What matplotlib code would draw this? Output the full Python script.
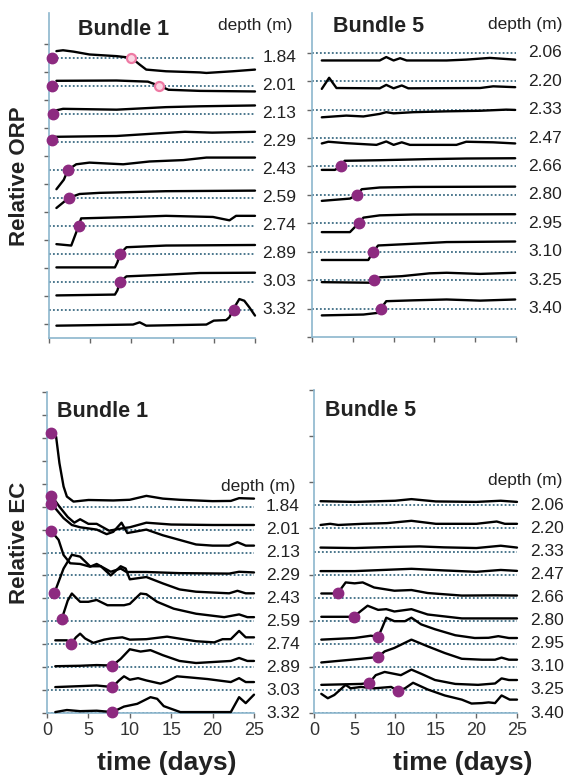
import matplotlib
matplotlib.use("Agg")
import matplotlib.pyplot as plt

plt.rcParams['font.family'] = ['Liberation Sans', 'DejaVu Sans']

# ---- data: traces are (day, offset above the depth's dotted baseline) ----
# Bundle 1, relative ORP
orp1_depths = ["1.84", "2.01", "2.13", "2.29", "2.43", "2.59", "2.74", "2.89", "3.03", "3.32"]
orp1_t = [
    [0.9, 1.7, 3, 4.9, 8.2, 10, 11, 11.8, 14.2, 18.3, 19.1, 22.3, 25],
    [0.9, 8.2, 12, 13.4, 14.5, 18.3, 25],
    [0.5, 1.7, 8.2, 14.2, 18.3, 25],
    [0.5, 8.2, 13, 16.5, 19.8, 25],
    [0.9, 1.8, 2.3, 3.3, 4.9, 9, 12.2, 16.3, 19.1, 25],
    [0.9, 2.4, 3.7, 6.1, 14.2, 25],
    [0.9, 2.7, 3.6, 3.9, 10.2, 14.2, 19.9, 21.9, 22.7, 25],
    [0.9, 8, 8.3, 8.6, 9.4, 14.2, 25],
    [0.9, 8, 8.3, 8.6, 9.4, 14.2, 18.3, 25],
    [0.9, 10.2, 11, 11.8, 19.1, 20, 21.5, 21.9, 22.3, 23.1, 23.7, 24.3, 25],
]
orp1_v = [
    [0.24, 0.27, 0.22, 0.12, 0.06, 0.0, -0.24, -0.42, -0.48, -0.52, -0.54, -0.48, -0.42],
    [0.18, 0.19, 0.15, 0.0, -0.14, -0.18, -0.2],
    [0.1, 0.18, 0.15, 0.24, 0.27, 0.3],
    [0.18, 0.21, 0.3, 0.36, 0.33, 0.36],
    [-0.69, -0.35, 0.0, 0.2, 0.26, 0.2, 0.3, 0.35, 0.44, 0.44],
    [-0.36, 0.0, 0.14, 0.18, 0.24, 0.26],
    [-0.65, -0.7, 0.0, 0.27, 0.32, 0.36, 0.32, 0.2, 0.36, 0.36],
    [-0.48, -0.48, -0.3, 0.0, 0.24, 0.3, 0.32],
    [-0.48, -0.45, -0.3, 0.0, 0.2, 0.26, 0.32, 0.33],
    [-0.56, -0.52, -0.44, -0.56, -0.52, -0.38, -0.36, -0.26, 0.0, 0.39, 0.33, 0.1, -0.2],
]
orp1_mark_t = [0.4, 0.4, 0.5, 0.4, 2.3, 2.4, 3.6, 8.6, 8.6, 22.4]
orp1_mark_v = [0, 0, 0, 0.05, 0, 0, 0, 0, 0, 0]
orp1_pink_row = [0, 1]
orp1_pink_t = [10.0, 13.4]

# Bundle 5, relative ORP
orp5_depths = ["2.06", "2.20", "2.33", "2.47", "2.66", "2.80", "2.95", "3.10", "3.25", "3.40"]
orp5_t = [
    [1.2, 8.3, 9.1, 10, 10.8, 11.6, 16.5, 18.9, 21.8, 24.9],
    [1.2, 2.1, 3.0, 8.3, 9.1, 10, 11, 11.8, 20.6, 22.2, 24.9],
    [1.2, 4.2, 6.3, 8.3, 9.1, 10, 12.4, 16.5, 20.6, 23.8, 24.9],
    [1.2, 2.0, 4.2, 7.9, 9.1, 10, 11, 12, 17.7, 18.9, 22.2, 24.9],
    [1.2, 2.8, 3.55, 4.0, 8.3, 14.4, 18.9, 24.9],
    [1.2, 4.65, 5.5, 6.1, 8.3, 12.4, 24.9],
    [1.2, 4.65, 5.7, 6.3, 8.3, 12.4, 24.9],
    [1.2, 6.9, 7.5, 8.1, 12.4, 16.5, 24.9],
    [1.2, 7.1, 7.6, 8.3, 11, 14.4, 16.5, 20.6, 24.9],
    [1.2, 6.3, 8.1, 8.45, 9.1, 12.4, 16.5, 20.6, 24.9],
]
orp5_v = [
    [-0.27, -0.27, -0.15, -0.27, -0.19, -0.27, -0.27, -0.24, -0.18, -0.24],
    [-0.27, 0.12, -0.24, -0.25, -0.13, -0.25, -0.15, -0.25, -0.24, -0.18, -0.21],
    [-0.27, -0.21, -0.24, -0.15, -0.09, -0.13, -0.09, -0.06, -0.04, 0.0, -0.01],
    [-0.19, -0.13, -0.18, -0.24, -0.12, -0.24, -0.15, -0.24, -0.24, -0.13, -0.15, -0.19],
    [-0.12, -0.12, 0.0, 0.2, 0.22, 0.26, 0.28, 0.29],
    [-0.21, -0.13, 0.0, 0.2, 0.26, 0.28, 0.29],
    [-0.31, -0.31, 0.0, 0.2, 0.28, 0.31, 0.32],
    [-0.29, -0.29, 0.0, 0.22, 0.28, 0.34, 0.36],
    [-0.07, -0.09, 0.0, 0.1, 0.14, 0.24, 0.26, 0.22, 0.26],
    [-0.24, -0.21, -0.15, 0.0, 0.26, 0.29, 0.32, 0.28, 0.32],
]
orp5_mark_t = [None, None, None, None, 3.55, 5.5, 5.7, 7.5, 7.6, 8.45]
orp5_mark_v = [0, 0, 0, 0, 0, 0, 0, 0, 0, 0]

# Bundle 1, relative EC
ec1_depths = orp1_depths
ec1_t = [
    [0.6, 1.1, 1.5, 2, 2.4, 3.2, 5, 8, 10, 12, 14, 16, 20, 22.2, 23.2, 25],
    [0.6, 1.5, 2.5, 3.3, 4, 5, 6, 7.5, 9, 10, 12, 15, 20, 25],
    [0.6, 2, 3, 4, 5, 6, 7.2, 8, 9, 9.7, 10.5, 12, 14, 16, 18, 20, 22, 23, 24, 25],
    [0.5, 1.4, 2, 2.8, 4, 5.2, 6, 7.7, 8.9, 9.6, 12, 16, 22, 23.2, 25],
    [0.9, 2, 3, 4, 5.2, 6.5, 7.7, 8.9, 9.5, 10, 12, 14, 16, 18, 22, 23, 24, 25],
    [1.8, 2.5, 3, 4, 5, 6, 7.3, 9.3, 10, 11.3, 12, 13.3, 15.3, 18, 21.4, 23.2, 24.2, 25],
    [1, 2.4, 2.9, 3.5, 4, 4.6, 5.6, 6.9, 7.7, 9.1, 10, 12, 14.5, 18, 20.2, 21.2, 22.2, 23.2, 24, 25],
    [1, 4, 6, 7.9, 8.9, 10, 11.3, 12.5, 14, 16, 18, 22.2, 23.2, 24.2, 25],
    [1, 6, 7.9, 8.7, 9.3, 10, 11, 12, 13.7, 14.5, 15.7, 17.3, 19.4, 22.2, 23.2, 24, 25],
    [1, 2.4, 4, 6, 7.9, 9.3, 10.9, 12.5, 13.3, 14.1, 16.1, 22.2, 23.2, 24, 25],
]
ec1_v = [
    [3.2, 3.05, 1.9, 0.88, 0.44, 0.22, 0.29, 0.27, 0.3, 0.47, 0.35, 0.3, 0.24, 0.25, 0.37, 0.35],
    [1.45, 1.0, 0.55, 0.3, 0.45, 0.25, 0.25, -0.05, 0.05, 0.1, 0.3, 0.22, 0.2, 0.2],
    [2.1, 1.5, 1.2, 1.1, 1.05, 1.0, 0.8, 0.9, 1.3, 0.85, 0.9, 1.0, 0.75, 0.55, 0.35, 0.3, 0.3, 0.45, 0.3, 0.3],
    [1.94, 1.55, 0.89, 0.53, 0.5, 0.38, 0.5, 0.16, 0.3, 0.15, 0.15, 0.1, 0.08, 0.16, 0.13],
    [0.24, 1.3, 1.9, 1.82, 1.4, 1.4, 1.0, 1.4, 1.3, 0.83, 0.93, 0.65, 0.39, 0.29, 0.22, 0.33, 0.22, 0.22],
    [0.12, 0.9, 1.21, 0.85, 0.85, 0.93, 0.7, 0.7, 0.76, 1.21, 1.18, 0.85, 0.55, 0.33, 0.18, 0.3, 0.18, 0.18],
    [0.17, 0.17, 0.02, 0.3, 0.46, 0.25, 0.06, 0.2, 0.25, 0.3, 0.2, 0.22, 0.33, 0.13, 0.08, 0.22, 0.22, 0.58, 0.3, 0.3],
    [0.04, 0.06, 0.09, 0.07, 0.36, 0.78, 0.68, 0.74, 0.52, 0.27, 0.18, 0.27, 0.4, 0.27, 0.27],
    [0.13, 0.2, 0.13, 0.42, 0.6, 0.45, 0.52, 0.42, 0.28, 0.38, 0.6, 0.55, 0.48, 0.35, 0.52, 0.35, 0.35],
    [0.04, 0.13, 0.08, 0.1, 0.04, 0.28, 0.4, 0.69, 0.62, 0.3, 0.04, 0.04, 0.69, 0.43, 0.8],
]
ec1_mark_t = [0.5, 0.5, 0.5, 0.5, 0.9, 1.8, 2.9, 7.9, 7.9, 7.9]
ec1_mark_v = [3.21, 1.45, 2.1, 1.94, 0.24, 0.12, 0.02, 0.07, 0.13, 0.04]

# Bundle 5, relative EC
ec5_depths = orp5_depths
ec5_t = [
    [0.8, 5, 10, 12, 15, 20, 23, 25],
    [0.8, 2, 3, 6, 9, 12, 15, 20, 22.5, 23.5, 25],
    [0.8, 5, 10, 13, 16, 20, 23, 25],
    [0.8, 5, 12, 16, 20, 23, 25],
    [0.9, 2.9, 3.9, 5, 6, 7.4, 9.9, 12, 14, 18.2, 22.3, 25],
    [0.9, 4.1, 4.9, 5.8, 6.6, 7.9, 8.9, 9.9, 12, 14, 18.2, 25],
    [0.9, 5, 7, 7.9, 8.4, 8.9, 9.9, 11.2, 12, 13.2, 14.9, 17.4, 19.8, 21.5, 22.7, 24, 25],
    [0.9, 5.8, 7.9, 8.7, 9.9, 12, 14, 16.1, 18.2, 20.7, 22.3, 23.1, 24, 25],
    [0.9, 5.8, 6.8, 7.6, 8.7, 10.7, 12, 13.2, 14.9, 17.4, 20.2, 22.3, 23.1, 24, 25],
    [0.9, 1.7, 2.5, 3.9, 4.5, 5.8, 7.4, 9.5, 10.3, 11.2, 12.2, 14, 16.1, 18.2, 19.4, 20.7, 21.5, 22.3, 23.1, 24.1, 25],
]
ec5_v = [
    [0.18, 0.15, 0.2, 0.27, 0.17, 0.15, 0.2, 0.15],
    [0.15, 0.2, 0.15, 0.2, 0.23, 0.33, 0.2, 0.2, 0.3, 0.2, 0.2],
    [0.17, 0.15, 0.2, 0.22, 0.18, 0.15, 0.25, 0.17],
    [0.15, 0.15, 0.25, 0.18, 0.12, 0.2, 0.16],
    [0.18, 0.18, 0.66, 0.62, 0.66, 0.44, 0.3, 0.33, 0.2, 0.09, 0.1, 0.09],
    [0.17, 0.17, 0.17, 0.43, 0.65, 0.47, 0.5, 0.4, 0.5, 0.27, 0.1, 0.1],
    [0.18, 0.25, 0.35, 0.3, 0.7, 1.13, 0.98, 0.98, 1.13, 0.84, 0.63, 0.37, 0.25, 0.26, 0.33, 0.25, 0.25],
    [0.19, 0.35, 0.43, 0.67, 0.82, 1.18, 0.89, 0.6, 0.35, 0.31, 0.31, 0.4, 0.31, 0.31],
    [0.22, 0.26, 0.3, 0.64, 0.78, 0.64, 0.88, 0.7, 0.43, 0.26, 0.22, 0.28, 0.5, 0.43, 0.43],
    [0.83, 0.64, 0.78, 1.22, 1.07, 1.13, 1.07, 1.13, 0.96, 1.07, 1.31, 1.02, 0.76, 0.58, 0.41, 0.43, 0.46, 0.43, 0.76, 0.58, 0.58],
]
ec5_mark_t = [None, None, None, None, 2.9, 4.9, 7.9, 7.9, 6.8, 10.3]
ec5_mark_v = [0, 0, 0, 0, 0.18, 0.17, 0.3, 0.43, 0.3, 0.96]

xticks = [0, 5, 10, 15, 20, 25]

# ---- styles ----
SPINE = '#8cb6cd'
DOT = '#3d6c84'
PURPLE = '#8d2a80'

fig = plt.figure(figsize=(5.64, 7.75), dpi=100)


def panel(rect, title, depths, ts, vs, mt, mv, baselines, ylim, yticks,
          depth_x, dlabel_xy, title_xy, show_xlabels):
    ax = fig.add_axes(rect)
    ax.set_xlim(0, 25)
    ax.set_ylim(*ylim)
    for side in ['top', 'right']:
        ax.spines[side].set_visible(False)
    for side in ['left', 'bottom']:
        ax.spines[side].set_color(SPINE)
        ax.spines[side].set_linewidth(1.2)
    ax.set_xticks(xticks)
    ax.set_yticks(yticks)
    ax.set_yticklabels([])
    ax.tick_params(axis='both', direction='out', length=3.5, width=1,
                   color='#666666', labelsize=13, labelcolor='#333333', pad=3)
    if not show_xlabels:
        ax.set_xticklabels([])
    for i, b in enumerate(baselines):
        ax.axhline(b, color=DOT, lw=1.3, ls=(0, (1, 1.2)), zorder=1)
        ax.plot(ts[i], [b + v for v in vs[i]], color='black', lw=1.7,
                zorder=3, clip_on=False, solid_capstyle='round')
        if mt[i] is not None:
            ax.plot([mt[i]], [b + mv[i]], 'o', ms=7.5, color=PURPLE,
                    mec=PURPLE, zorder=5, clip_on=False)
        ax.text(depth_x, b, depths[i], transform=ax.get_yaxis_transform(),
                ha='left', va='center', fontsize=12.5, color='#222222')
    ax.text(dlabel_xy[0], dlabel_xy[1], 'depth (m)', transform=ax.transAxes,
            ha='left', va='center', fontsize=12.5, color='#222222')
    ax.text(title_xy[0], title_xy[1], title, transform=ax.transAxes,
            ha='left', va='center', fontsize=15.5, fontweight='bold', color='#222222')
    return ax


ax1 = panel([49 / 564, 1 - 338 / 775, 206 / 564, 325 / 775], 'Bundle 1',
            orp1_depths, orp1_t, orp1_v, orp1_mark_t, orp1_mark_v,
            list(range(10, 0, -1)), (0, 11.6), [i + 0.5 for i in range(11)],
            1.035, (0.82, 0.963), (0.14, 0.948), False)
for row, t in zip(orp1_pink_row, orp1_pink_t):
    ax1.plot([t], [10 - row], 'o', ms=6.5, mfc='#fbd5e3', mec='#ee7aa4',
             mew=1.6, zorder=6)

panel([312 / 564, 1 - 337 / 775, 204 / 564, 324 / 775], 'Bundle 5',
      orp5_depths, orp5_t, orp5_v, orp5_mark_t, orp5_mark_v,
      list(range(10, 0, -1)), (0, 11.4), list(range(0, 11)),
      1.06, (0.863, 0.963), (0.103, 0.957), False)

panel([47 / 564, 1 - 713 / 775, 207 / 564, 321 / 775], 'Bundle 1',
      ec1_depths, ec1_t, ec1_v, ec1_mark_t, ec1_mark_v,
      list(range(9, -1, -1)), (0, 14), list(range(0, 15)),
      1.058, (0.84, 0.707), (0.048, 0.938), True)

panel([314 / 564, 1 - 713 / 775, 203 / 564, 323 / 775], 'Bundle 5',
      ec5_depths, ec5_t, ec5_v, ec5_mark_t, ec5_mark_v,
      list(range(9, -1, -1)), (0, 14), list(range(0, 15, 2)),
      1.064, (0.857, 0.721), (0.054, 0.935), True)

fig.text(20 / 564, 1 - 176 / 775, 'Relative ORP', rotation=90, ha='center',
         va='center', fontsize=16, fontweight='bold', color='#222222')
fig.text(20 / 564, 1 - 543 / 775, 'Relative EC', rotation=90, ha='center',
         va='center', fontsize=16, fontweight='bold', color='#222222')
fig.text(167 / 564, 1 - 763 / 775, 'time (days)', ha='center', va='center',
         fontsize=19, fontweight='bold', color='#222222')
fig.text(463 / 564, 1 - 763 / 775, 'time (days)', ha='center', va='center',
         fontsize=19, fontweight='bold', color='#222222')

fig.savefig('out.png', dpi=100)
